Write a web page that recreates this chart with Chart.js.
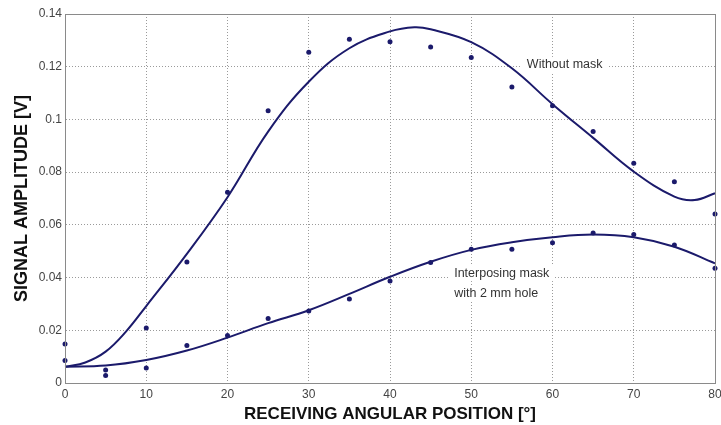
<!DOCTYPE html>
<html>
<head>
<meta charset="utf-8">
<script src="https://cdn.jsdelivr.net/npm/chart.js@4/dist/chart.umd.min.js"></script>
<style>
    html, body { margin: 0; padding: 0; background: #fff; }
    #wrap { width: 721px; height: 425px; position: relative; }
</style>
</head>
<body>
<div id="wrap"><canvas id="ampChart"></canvas></div>
<script>
// 测量点：接收角度 (°)
const angles = [0, 5, 10, 15, 20, 25, 30, 35, 40, 45, 50, 55, 60, 65, 70, 75, 80];
// 无遮罩测量值 (V)
const noMaskPts = [0.0148, 0.0049, 0.0209, 0.0459, 0.0724, 0.1033, 0.1255, 0.1304, 0.1295, 0.1275, 0.1235, 0.1123, 0.1052, 0.0954, 0.0834, 0.0764, 0.0641];
// 2 mm 孔遮罩测量值 (V)
const maskPts = [0.0085, 0.0028, 0.0057, 0.0142, 0.0180, 0.0245, 0.0273, 0.0319, 0.0387, 0.0457, 0.0507, 0.0507, 0.0532, 0.0569, 0.0563, 0.0524, 0.0435];

// 拟合曲线
const fitAngles = [0, 2.5, 5, 7.5, 10, 15, 20, 25, 30, 35, 40, 43, 45, 50, 55, 60, 65, 70, 75, 77.5, 80];
const noMaskFit = [0.0062, 0.0078, 0.0119, 0.0195, 0.0292, 0.0490, 0.0705, 0.0954, 0.1143, 0.1270, 0.1334, 0.1350, 0.1342, 0.1293, 0.1194, 0.1058, 0.0930, 0.0802, 0.0707, 0.0694, 0.0720];
const maskFitAngles = [0, 5, 10, 15, 20, 25, 30, 35, 40, 45, 50, 55, 60, 65, 70, 75, 80];
const maskFit = [0.0062, 0.0066, 0.0087, 0.0123, 0.0172, 0.0227, 0.0276, 0.0338, 0.0403, 0.0460, 0.0505, 0.0534, 0.0553, 0.0563, 0.0553, 0.0517, 0.0454];

const xTicks = [0, 10, 20, 30, 40, 50, 60, 70, 80];
const yTicks = [0, 0.02, 0.04, 0.06, 0.08, 0.1, 0.12, 0.14];

const NAVY = '#1b1a6b';
const FONT = "'Liberation Sans', Arial, sans-serif";

function toXY(xs, ys) {
    return xs.map((x, i) => ({ x: x, y: ys[i] }));
}

// 曲线标注（文字下方白底）
const curveLabels = [
    { lines: ['Without mask'], x: 61.5, y: 0.1207, align: 'center' },
    { lines: ['Interposing mask', 'with 2 mm hole'], x: 47.9, y: 0.0417, align: 'left' }
];

const annotatePlugin = {
    id: 'annotate',
    afterDatasetsDraw(chart) {
        const ctx = chart.ctx;
        const xs = chart.scales.x, ys = chart.scales.y;
        ctx.save();
        ctx.font = '12.5px ' + FONT;
        ctx.textBaseline = 'middle';
        curveLabels.forEach(lb => {
            const px = xs.getPixelForValue(lb.x);
            const py = ys.getPixelForValue(lb.y);
            lb.lines.forEach((t, i) => {
                const w = ctx.measureText(t).width;
                const left = lb.align === 'center' ? px - w / 2 : px;
                const cy = py + i * 20;
                ctx.fillStyle = '#fff';
                ctx.fillRect(left - 5, cy - 8, w + 10, 16);
                ctx.fillStyle = '#333';
                ctx.textAlign = 'left';
                ctx.fillText(t, left, cy);
            });
        });
        ctx.restore();
    }
};

// 图框
const framePlugin = {
    id: 'frame',
    afterDraw(chart) {
        const a = chart.chartArea;
        const ctx = chart.ctx;
        ctx.save();
        ctx.strokeStyle = '#8a8a8a';
        ctx.lineWidth = 1;
        ctx.strokeRect(Math.round(a.left) + 0.5, Math.round(a.top) + 0.5, Math.round(a.right - a.left), Math.round(a.bottom - a.top));
        ctx.restore();
    }
};

new Chart(document.getElementById('ampChart'), {
    type: 'scatter',
    data: {
        datasets: [
            {
                label: 'Without mask fit',
                data: toXY(fitAngles, noMaskFit),
                showLine: true,
                borderColor: NAVY,
                borderWidth: 2,
                pointRadius: 0,
                tension: 0.4
            },
            {
                label: 'Mask fit',
                data: toXY(maskFitAngles, maskFit),
                showLine: true,
                borderColor: NAVY,
                borderWidth: 2,
                pointRadius: 0,
                tension: 0.4
            },
            {
                label: 'Without mask',
                data: toXY(angles, noMaskPts),
                backgroundColor: NAVY,
                borderColor: NAVY,
                pointRadius: 2.5,
                borderWidth: 0
            },
            {
                label: 'Interposing mask with 2 mm hole',
                data: toXY(angles, maskPts),
                backgroundColor: NAVY,
                borderColor: NAVY,
                pointRadius: 2.5,
                borderWidth: 0
            }
        ]
    },
    options: {
        responsive: true,
        maintainAspectRatio: false,
        animation: false,
        clip: false,
        layout: { padding: { top: 14, right: 6, left: 0, bottom: 0 } },
        plugins: {
            legend: { display: false },
            tooltip: { enabled: false }
        },
        scales: {
            x: {
                type: 'linear',
                min: 0,
                max: 80,
                afterBuildTicks(scale) {
                    scale.ticks = xTicks.map(v => ({ value: v }));
                },
                afterFit(scale) {
                    scale.height = 42;
                    scale.paddingLeft = 0;
                    scale.paddingRight = 0;
                },
                grid: { color: '#9a9a9a', lineWidth: 1, tickLength: 0, drawTicks: false },
                border: { color: '#8a8a8a', dash: [1, 2] },
                ticks: {
                    color: '#444',
                    padding: 4,
                    font: { family: FONT, size: 12 },
                    maxRotation: 0
                },
                title: {
                    display: true,
                    text: 'RECEIVING ANGULAR POSITION [°]',
                    color: '#111',
                    font: { family: FONT, size: 17, weight: 'bold' },
                    padding: { top: 0, bottom: 0 }
                }
            },
            y: {
                type: 'linear',
                min: 0,
                max: 0.14,
                afterBuildTicks(scale) {
                    scale.ticks = yTicks.map(v => ({ value: v }));
                },
                afterFit(scale) {
                    scale.width = 65;
                    scale.paddingTop = 0;
                    scale.paddingBottom = 0;
                },
                grid: { color: '#9a9a9a', lineWidth: 1, tickLength: 0, drawTicks: false },
                border: { color: '#8a8a8a', dash: [1, 2] },
                ticks: {
                    color: '#444',
                    padding: 3,
                    font: { family: FONT, size: 12 },
                    callback: v => String(Number(v.toFixed(2)))
                },
                title: {
                    display: true,
                    text: 'SIGNAL AMPLITUDE [V]',
                    color: '#111',
                    font: { family: FONT, size: 18, weight: 'bold' },
                    padding: { top: 11, bottom: 0 }
                }
            }
        }
    },
    plugins: [annotatePlugin, framePlugin]
});
</script>
</body>
</html>
